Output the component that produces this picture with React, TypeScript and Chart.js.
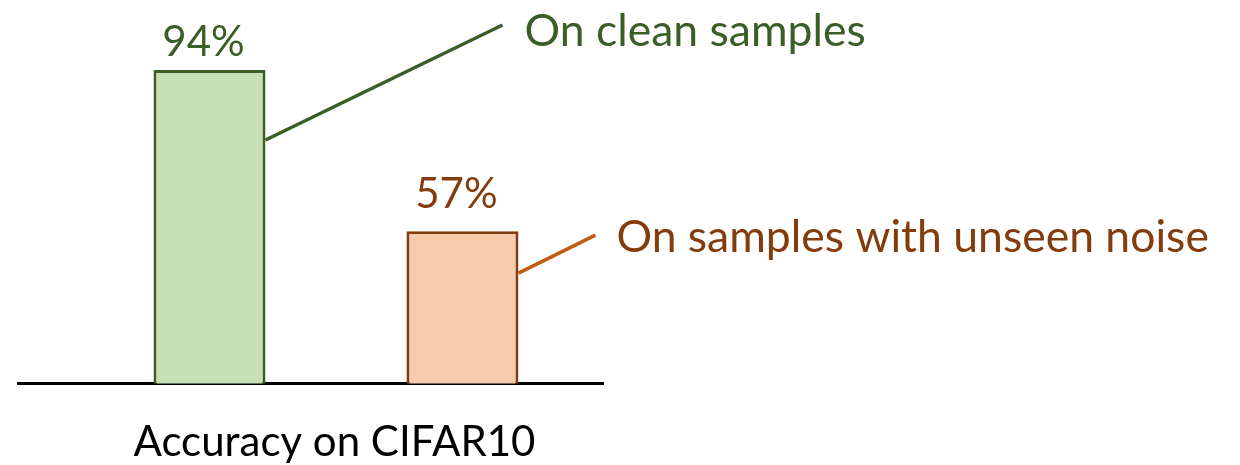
import React, { useEffect, useRef } from "react";
import { Chart, registerables } from "chart.js";

Chart.register(...registerables);

const categories = ["Accuracy on CIFAR10"];
const seriesNames = ["On clean samples", "On samples with unseen noise"];
const cleanValues = [94];
const noiseValues = [57];
const axisRange = [22, 108];

const FONT = "Lato, 'Open Sans', sans-serif";
const GREEN_DARK = "#3B5E27";
const ORANGE_DARK = "#843C0C";

const annotationPlugin = {
  id: "barAnnotations",
  afterDatasetsDraw(chart: any) {
    const ctx = chart.ctx;
    const styles = [
      { text: GREEN_DARK, line: GREEN_DARK, startDy: 70, dx: 237, dy: -115, gap: 22, textDy: 7, valueGap: 14 },
      { text: ORANGE_DARK, line: "#C55A11", startDy: 42, dx: 77, dy: -38, gap: 21, textDy: 3, valueGap: 23 },
    ];
    chart.data.datasets.forEach((ds: any, i: number) => {
      const meta = chart.getDatasetMeta(i);
      const bar: any = meta.data[0];
      if (!bar) return;
      const s = styles[i];
      const right = bar.x + bar.width / 2;
      const x0 = right;
      const y0 = bar.y + s.startDy;
      const x1 = x0 + s.dx;
      const y1 = y0 + s.dy;
      ctx.save();
      ctx.strokeStyle = s.line;
      ctx.lineWidth = 3.5;
      ctx.beginPath();
      ctx.moveTo(x0, y0);
      ctx.lineTo(x1, y1);
      ctx.stroke();
      ctx.fillStyle = s.text;
      ctx.font = `44.5px ${FONT}`;
      ctx.textAlign = "left";
      ctx.textBaseline = "middle";
      ctx.fillText(ds.label, x1 + s.gap, y1 + s.textDy);
      ctx.font = `42px ${FONT}`;
      ctx.textAlign = "center";
      ctx.textBaseline = "alphabetic";
      ctx.fillText(`${ds.data[0]}%`, bar.x - 6, bar.y - s.valueGap);
      ctx.restore();
    });
  },
};

export default function App() {
  const ref = useRef<HTMLCanvasElement>(null);
  useEffect(() => {
    if (!ref.current) return;
    const chart = new Chart(ref.current, {
      type: "bar",
      data: {
        labels: categories,
        datasets: [
          {
            label: seriesNames[0],
            data: cleanValues,
            backgroundColor: "#C5E0B4",
            borderColor: GREEN_DARK,
            borderWidth: 3,
            categoryPercentage: 0.6906,
            barPercentage: 0.5545,
          },
          {
            label: seriesNames[1],
            data: noiseValues,
            backgroundColor: "#F8CBAD",
            borderColor: ORANGE_DARK,
            borderWidth: 3,
            categoryPercentage: 1.039,
            barPercentage: 0.3685,
          },
        ],
      },
      options: {
        responsive: false,
        animation: false,
        layout: { padding: { left: 18, right: 637, top: 9, bottom: -37 } },
        plugins: { legend: { display: false }, tooltip: { enabled: false } },
        scales: {
          x: {
            grid: { display: false, drawTicks: false },
            border: { display: true, color: "#000", width: 3 },
            ticks: { color: "#000", font: { family: FONT, size: 42 }, padding: 34, labelOffset: 24 },
          },
          y: { display: false, min: axisRange[0], max: axisRange[1] },
        },
      },
      plugins: [annotationPlugin],
    });
    return () => chart.destroy();
  }, []);
  return (
    <div style={{ position: "fixed", left: 0, top: 0, width: 1240, height: 465, background: "#fff" }}>
      <canvas ref={ref} width={1240} height={465} style={{ display: "block" }} />
    </div>
  );
}
